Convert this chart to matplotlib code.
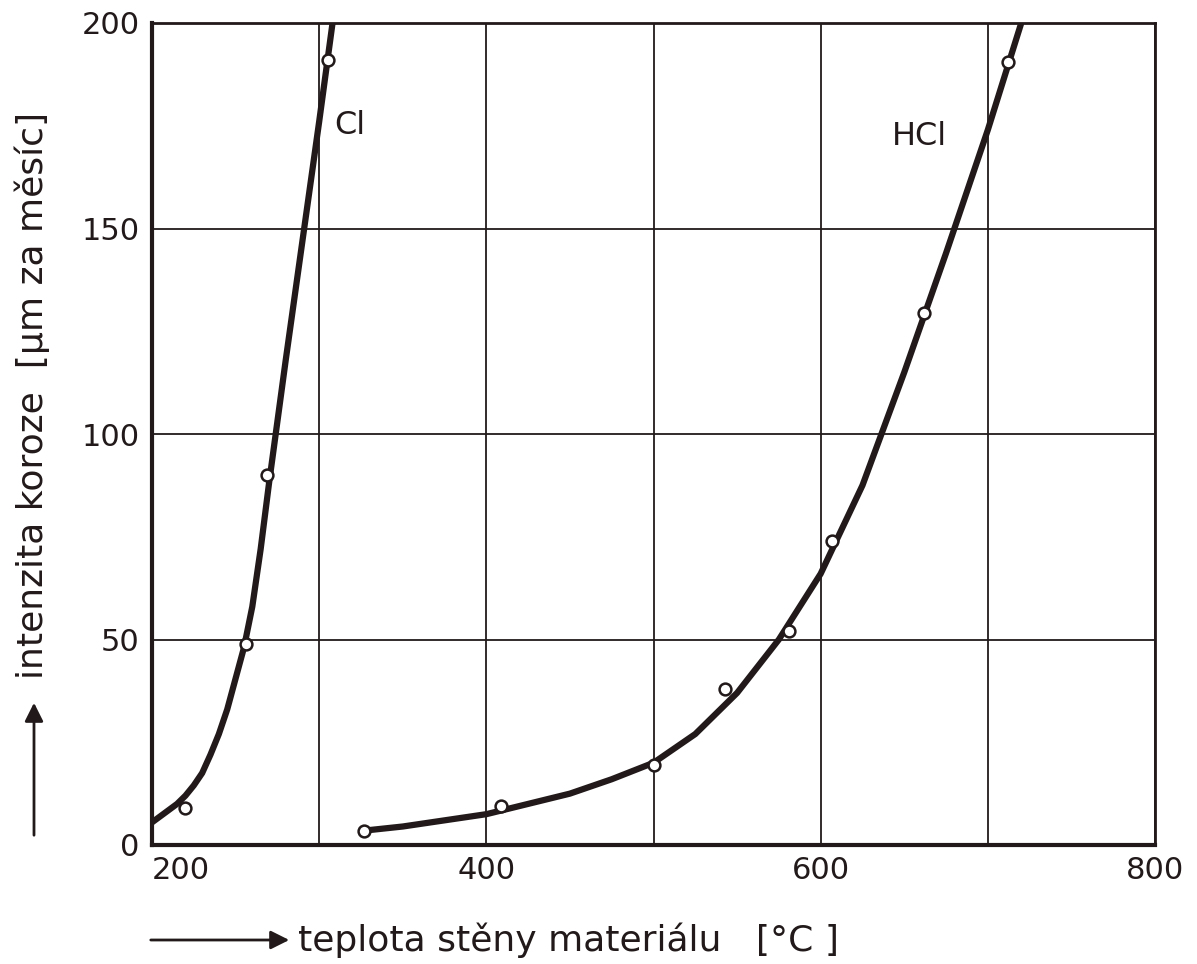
import matplotlib.pyplot as plt

cl_temp = [220, 256, 269, 305]
cl_rate = [9, 49, 90, 191]
hcl_temp = [327, 409, 500, 543, 581, 607, 662, 712]
hcl_rate = [3.5, 9.5, 19.5, 38, 52, 74, 129.5, 190.5]

# hand-drawn trend curves
cl_curve_t = [200, 205, 210, 215, 220, 225, 230, 235, 240, 245, 250, 255, 260, 265, 270, 275, 280, 290, 300, 308]
cl_curve_r = [5.5, 7, 8.5, 10, 12, 14.5, 17.5, 22, 27, 33, 40.5, 48, 58, 72, 88, 103, 118, 147, 176, 200]
hcl_curve_t = [327, 350, 375, 400, 425, 450, 475, 500, 525, 550, 575, 600, 625, 650, 675, 700, 720]
hcl_curve_r = [3.5, 4.5, 6, 7.5, 10, 12.5, 16, 20, 27, 37, 50, 66, 87.5, 115, 144, 174, 200]

x_ticks = [200, 400, 600, 800]
y_ticks = [0, 50, 100, 150, 200]

ink = '#221a1a'
W, H = 1197, 964

fig = plt.figure(figsize=(W / 100, H / 100), dpi=100)
fig.patch.set_facecolor('white')
ax = fig.add_axes([152 / W, 1 - 845 / H, (1155 - 152) / W, (845 - 23) / H])

ax.set_xlim(200, 800)
ax.set_ylim(0, 200)
ax.set_yticks(y_ticks)
ax.grid(True, color=ink, lw=1.3)
ax.set_axisbelow(True)

ax.set_xticks(range(200, 801, 100))
ax.set_xticklabels([str(t) if t in x_ticks else '' for t in range(200, 801, 100)])
ax.tick_params(length=0, labelsize=22, colors=ink, pad=8)
ax.tick_params(axis='y', pad=9)
ax.get_xticklabels()[0].set_horizontalalignment('left')

for side, lw in [('left', 3), ('bottom', 3), ('top', 2), ('right', 2)]:
    ax.spines[side].set_linewidth(lw)
    ax.spines[side].set_color(ink)

ax.plot(cl_curve_t, cl_curve_r, color=ink, lw=4.5, solid_joinstyle='round', solid_capstyle='butt')
ax.plot(hcl_curve_t, hcl_curve_r, color=ink, lw=4.5, solid_joinstyle='round', solid_capstyle='butt')
ax.plot(cl_temp, cl_rate, 'o', ms=8.5, mfc='white', mec=ink, mew=1.8, zorder=5)
ax.plot(hcl_temp, hcl_rate, 'o', ms=8.5, mfc='white', mec=ink, mew=1.8, zorder=5)

ax.text(309, 175, 'Cl', fontsize=23, color=ink, va='center', ha='left')
ax.text(659, 172.5, 'HCl', fontsize=23, color=ink, va='center', ha='center')

# axis titles with arrows, placed in figure pixels
fig.text(32 / W, 1 - 395 / H, 'intenzita koroze  [μm za měsíc]', rotation=90,
         fontsize=26, color=ink, ha='center', va='center')
fig.text(298 / W, 1 - 940 / H, 'teplota stěny materiálu   [°C ]',
         fontsize=26, color=ink, ha='left', va='center')
ax.annotate('', xy=(34, H - 700), xytext=(34, H - 838), xycoords='figure pixels',
            textcoords='figure pixels',
            arrowprops=dict(arrowstyle='-|>', color=ink, lw=2, mutation_scale=28))
ax.annotate('', xy=(292, H - 940), xytext=(148, H - 940), xycoords='figure pixels',
            textcoords='figure pixels',
            arrowprops=dict(arrowstyle='-|>', color=ink, lw=2, mutation_scale=28))

fig.savefig('out.png', dpi=100)
